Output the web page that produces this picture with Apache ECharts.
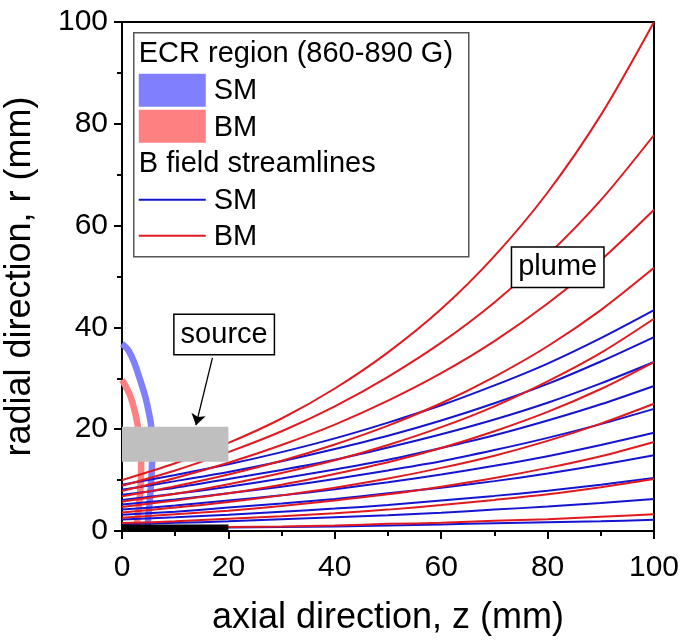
<!DOCTYPE html>
<html>
<head>
<meta charset="utf-8">
<script src="https://cdn.jsdelivr.net/npm/echarts@6/dist/echarts.min.js"></script>
<style>html,body{margin:0;padding:0;background:#fff}#c{width:685px;height:642px}</style>
</head>
<body>
<div id="c"></div>
<script>
// axial positions (mm) where streamlines were read
const zPos = [0, 10, 20, 30, 40, 50, 60, 70, 80, 90, 100];
// B field streamlines, SM (blue), radial position r (mm) at zPos
const sm1 = [9.1, 11.0, 13.1, 15.5, 18.2, 21.3, 24.7, 28.6, 32.9, 37.9, 43.4];
const sm2 = [8.1, 9.8, 11.6, 13.7, 16.1, 18.7, 21.7, 25.1, 28.9, 33.3, 38.1];
const sm3 = [7.1, 8.5, 10.2, 12.0, 14.0, 16.4, 19.0, 21.9, 25.2, 29.0, 33.2];
const sm4 = [6.1, 7.3, 8.7, 10.3, 12.1, 14.0, 16.3, 18.8, 21.7, 24.9, 28.5];
const sm5 = [5.2, 6.2, 7.4, 8.7, 10.2, 11.9, 13.7, 15.9, 18.3, 21.0, 24.0];
const sm6 = [4.2, 5.0, 6.0, 7.0, 8.2, 9.6, 11.1, 12.8, 14.7, 16.9, 19.3];
const sm7 = [3.2, 3.8, 4.6, 5.4, 6.3, 7.4, 8.5, 9.8, 11.3, 13.0, 14.9];
const sm8 = [2.26, 2.7, 3.2, 3.8, 4.4, 5.1, 6.0, 6.9, 7.9, 9.1, 10.4];
const sm9 = [1.37, 1.6, 1.9, 2.3, 2.7, 3.1, 3.6, 4.2, 4.8, 5.5, 6.3];
const sm10 = [0.48, 0.6, 0.7, 0.8, 0.9, 1.1, 1.3, 1.5, 1.7, 1.9, 2.2];
// B field streamlines, BM (red)
const bm1 = [10.0, 13.3, 17.3, 22.1, 28.0, 35.1, 43.6, 54.0, 66.5, 81.7, 100];
const bm2 = [8.9, 11.9, 15.5, 19.6, 24.5, 30.3, 37.0, 44.9, 54.2, 65.0, 77.8];
const bm3 = [7.85, 10.4, 13.4, 16.9, 20.9, 25.6, 31.0, 37.3, 44.7, 53.2, 63.1];
const bm4 = [6.8, 8.8, 11.1, 13.8, 17.0, 20.7, 25.1, 30.3, 36.3, 43.4, 51.7];
const bm5 = [5.75, 7.3, 9.2, 11.4, 13.9, 16.9, 20.4, 24.5, 29.4, 35.0, 41.7];
const bm6 = [4.7, 6.0, 7.4, 9.1, 11.2, 13.5, 16.3, 19.6, 23.4, 27.9, 33.2];
const bm7 = [3.65, 4.6, 5.7, 7.0, 8.5, 10.3, 12.4, 14.8, 17.7, 21.1, 25.0];
const bm8 = [2.6, 3.3, 4.0, 4.9, 6.0, 7.2, 8.7, 10.4, 12.4, 14.7, 17.5];
const bm9 = [1.55, 1.9, 2.4, 2.9, 3.5, 4.2, 5.1, 6.1, 7.2, 8.6, 10.2];
const bm10 = [0.5, 0.6, 0.8, 0.9, 1.1, 1.4, 1.6, 2.0, 2.3, 2.8, 3.3];
// ECR region (860-890 G) contours: z and r (mm)
const ecrSmZ = [0, 1.2, 2.4, 3.4, 4.4, 5.1, 5.5, 5.7, 5.6, 5.3, 4.9, 4.8];
const ecrSmR = [36.8, 35.5, 32.8, 29.7, 26.3, 23.0, 20.5, 16.0, 12.0, 7.0, 2.0, 0.0];
const ecrBmZ = [0, 0.8, 1.6, 2.4, 3.0, 3.4, 3.6, 3.5, 3.1, 2.8, 2.8];
const ecrBmR = [29.7, 28.2, 26.4, 23.5, 20.5, 16.5, 13.6, 9.0, 4.0, 1.3, 0.0];
// blocks: [zStart, zEnd, rStart, rEnd]
const sourceBlock = [0, 20, 13.6, 20.5];
const baseBlock = [0, 20, 0, 1.3];
// annotations in data coordinates
const sourceLabelAt = [19.2, 38.6];
const sourceArrow = [[17.0, 34.0], [13.9, 20.8]];
const plumeLabelAt = [81.9, 51.8];
// axis ticks
const xTicks = [0, 20, 40, 60, 80, 100];
const yTicks = [0, 20, 40, 60, 80, 100];

const FONT = "'Liberation Sans', Arial, Helvetica, sans-serif";
const BLUE = '#1414d2';
const RED = '#e01a1f';
const zip = (zs, rs) => zs.map((z, i) => [z, rs[i]]);

const smLines = [sm1, sm2, sm3, sm4, sm5, sm6, sm7, sm8, sm9, sm10];
const bmLines = [bm1, bm2, bm3, bm4, bm5, bm6, bm7, bm8, bm9, bm10];

const series = [];
series.push({
  type: 'line', name: 'ECR SM', data: zip(ecrSmZ, ecrSmR), smooth: 0.4,
  showSymbol: false, z: 1, lineStyle: { color: '#8080ff', width: 6.5 }, silent: true
});
series.push({
  type: 'line', name: 'ECR BM', data: zip(ecrBmZ, ecrBmR), smooth: 0.4,
  showSymbol: false, z: 1, lineStyle: { color: '#ff8080', width: 6.5 }, silent: true
});
smLines.forEach((rs, i) => series.push({
  type: 'line', name: 'SM' + (i + 1), data: zip(zPos, rs), smooth: 0.3,
  showSymbol: false, z: 2, lineStyle: { color: BLUE, width: 2 }, silent: true
}));
bmLines.forEach((rs, i) => series.push({
  type: 'line', name: 'BM' + (i + 1), data: zip(zPos, rs), smooth: 0.3,
  showSymbol: false, z: 3, lineStyle: { color: RED, width: 2 }, silent: true
}));
// source block and base as rectangles through the axes
series.push({
  type: 'custom', name: 'blocks', z: 8, silent: true,
  data: [sourceBlock.concat(['#bfbfbf']), baseBlock.concat(['#000000'])],
  encode: { x: [0, 1], y: [2, 3] },
  renderItem: function (params, api) {
    const p0 = api.coord([api.value(0), api.value(3)]);
    const p1 = api.coord([api.value(1), api.value(2)]);
    return {
      type: 'rect',
      shape: { x: p0[0], y: p0[1], width: p1[0] - p0[0], height: p1[1] - p0[1] },
      style: { fill: api.value(4) }
    };
  }
});
series.push({
  type: 'line', name: 'annot', data: [], z: 10, silent: true,
  markLine: {
    silent: true, symbol: ['none', 'arrow'], symbolSize: 11,
    lineStyle: { color: '#000', width: 1.3, type: 'solid' }, label: { show: false },
    data: [[{ coord: sourceArrow[0] }, { coord: sourceArrow[1] }]]
  },
  markPoint: {
    silent: true, symbol: 'rect', symbolSize: 0,
    label: {
      show: true, position: 'inside', color: '#000', fontFamily: FONT, fontSize: 29,
      backgroundColor: '#fff', borderColor: '#000', borderWidth: 1.5, padding: [6, 6, 4, 6]
    },
    data: [
      { coord: sourceLabelAt, label: { formatter: 'source' } },
      { coord: plumeLabelAt, label: { formatter: 'plume' } }
    ]
  }
});

const chart = echarts.init(document.getElementById('c'), null, { renderer: 'canvas' });
chart.setOption({
  animation: false,
  backgroundColor: '#fff',
  grid: {
    left: 122, right: 31, top: 22, bottom: 111, containLabel: false, outerBoundsMode: 'none',
    show: true, borderColor: '#000', borderWidth: 2, backgroundColor: 'transparent'
  },
  xAxis: {
    type: 'value', min: xTicks[0], max: xTicks[xTicks.length - 1], interval: 20,
    name: 'axial direction, z (mm)', nameLocation: 'middle', nameGap: 69,
    nameTextStyle: { fontFamily: FONT, fontSize: 36, color: '#000' },
    axisLine: { show: true, onZero: false, lineStyle: { color: '#000', width: 2 } },
    axisTick: { show: true, inside: false, length: 8, lineStyle: { color: '#000', width: 2 } },
    minorTick: { show: true, splitNumber: 2, length: 5, lineStyle: { color: '#000', width: 2 } },
    axisLabel: { fontFamily: FONT, fontSize: 30, color: '#000', margin: 22 },
    splitLine: { show: false }
  },
  yAxis: {
    type: 'value', min: yTicks[0], max: yTicks[yTicks.length - 1], interval: 20,
    name: 'radial direction, r (mm)', nameLocation: 'middle', nameGap: 84, nameRotate: 90,
    nameTextStyle: { fontFamily: FONT, fontSize: 36, color: '#000' },
    axisLine: { show: true, onZero: false, lineStyle: { color: '#000', width: 2 } },
    axisTick: { show: true, inside: false, length: 8, lineStyle: { color: '#000', width: 2 } },
    minorTick: { show: true, splitNumber: 2, length: 5, lineStyle: { color: '#000', width: 2 } },
    axisLabel: { fontFamily: FONT, fontSize: 30, color: '#000', margin: 14 },
    splitLine: { show: false }
  },
  series: series,
  graphic: {
    elements: [{
      type: 'group', left: 133, top: 32, z: 100,
      children: [
        { type: 'rect', shape: { x: 0, y: 0, width: 335, height: 224 }, style: { fill: '#fff', stroke: '#555', lineWidth: 1.5 } },
        { type: 'text', x: 5, y: 21, style: { text: 'ECR region (860-890 G)', fontFamily: FONT, fontSize: 29, fill: '#000', verticalAlign: 'middle' } },
        { type: 'rect', shape: { x: 5, y: 41, width: 67, height: 33 }, style: { fill: '#8080ff' } },
        { type: 'text', x: 80, y: 58, style: { text: 'SM', fontFamily: FONT, fontSize: 29, fill: '#000', verticalAlign: 'middle' } },
        { type: 'rect', shape: { x: 5, y: 77, width: 67, height: 33 }, style: { fill: '#ff8080' } },
        { type: 'text', x: 80, y: 95, style: { text: 'BM', fontFamily: FONT, fontSize: 29, fill: '#000', verticalAlign: 'middle' } },
        { type: 'text', x: 5, y: 131, style: { text: 'B field streamlines', fontFamily: FONT, fontSize: 29, fill: '#000', verticalAlign: 'middle' } },
        { type: 'line', shape: { x1: 5, y1: 167, x2: 72, y2: 167 }, style: { stroke: BLUE, lineWidth: 2 } },
        { type: 'text', x: 80, y: 168, style: { text: 'SM', fontFamily: FONT, fontSize: 29, fill: '#000', verticalAlign: 'middle' } },
        { type: 'line', shape: { x1: 5, y1: 203, x2: 72, y2: 203 }, style: { stroke: RED, lineWidth: 2 } },
        { type: 'text', x: 80, y: 204, style: { text: 'BM', fontFamily: FONT, fontSize: 29, fill: '#000', verticalAlign: 'middle' } }
      ]
    }]
  }
});
</script>
</body>
</html>
